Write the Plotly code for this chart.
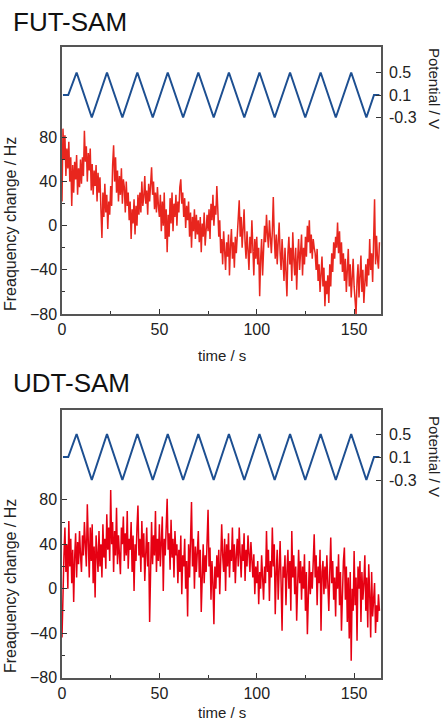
import numpy as np
import plotly.graph_objects as go

SAMPLE_STEP = 0.5

freq_fut = [
    22, 88, 60, 82, 45, 70, 52, 76, 40, 62, 18, 55, 30, 58, 42, 64, 28, 52, 35, 60,
    38, 62, 45, 86, 58, 72, 40, 66, 50, 70, 32, 56, 28, 50, 36, 55, 22, 48, 30, 44,
    14, -11, 30, 8, 38, 12, 28, -3, 22, 10, 36, 18, 55, 73, 40, 62, 30, 50, 22, 45,
    28, 52, 20, 42, 35, 12, 40, 18, 30, 5, 22, -12, 15, 2, 24, -8, 18, 0, 28, 10,
    30, 12, 40, 18, 26, 45, 20, 32, 10, 38, 22, 46, 53, 28, 40, 15, 30, 12, 35, 18,
    8, 28, -5, 22, 0, 30, -12, 15, -24, 10, -10, 25, 2, 30, -5, 20, 8, 28, 0, 22,
    12, 35, 42, 20, 30, 8, 25, -2, 18, 5, 22, -10, 12, -20, 8, -5, 15, -12, 10, -8,
    5, -15, 8, -24, 2, -10, 12, -18, 0, 10, -5, 15, -12, 20, 5, 28, 0, 18, 10, 36,
    15, -10, 5, -25, -12, -35, -5, -20, -40, -15, -28, -8, -45, -18, -3, -30, -15, -38, -10, -25,
    -5, 15, 23, -10, 8, -20, 2, 15, -15, -30, -5, -18, -40, -10, -25, 5, -20, -45, -12, -30,
    -10, -35, -20, -64, -30, -12, -45, -20, 0, -15, 10, -8, -20, 5, -15, -25, -5, 26, -10, -30,
    -8, -35, -15, 3, -25, -40, -12, -30, -50, -20, -38, -64, -25, -10, -35, -20, -50, -6, -30, -45,
    -20, -58, -30, -12, -40, -25, -8, -45, -20, -35, -10, -28, 0, -15, 5, -25, -8, -30, -12, -20,
    -25, -40, -21, -50, -35, -60, -42, -28, -55, -38, -73, -50, -62, -45, -70, -35, -55, -25, -42, -15,
    -30, -10, -20, 3, -25, -5, -35, -15, -42, -25, -50, -30, -60, -40, -21, -55, -35, -65, -45, -30,
    -55, -70, -80, -50, -35, -65, -45, -27, -60, -40, -70, -50, -35, -55, -30, -45, -12, -40, -25, -51,
    -20, 24, -35, -9, -30, -39, -15,
]

freq_udt = [
    -44, 10, 30, 55, 15, 40, 0, 61, 20, 45, 5, 35, -12, 28, 50, 10, 42, 22, 52, 30,
    15, 48, 30, 60, 40, 20, 76, 45, 10, 55, 25, 58, 5, 38, -8, 48, 30, 15, 52, 20,
    40, 10, 58, 28, 45, 18, 67, 35, 55, 25, 89, 40, 60, 15, 52, 30, 73, 22, 48, 35,
    13, 55, 40, 65, 25, 50, 30, 70, 18, 45, 35, 60, 15, 48, -2, 40, 25, 55, 75, 30,
    45, 15, 61, 28, 50, 7, 38, 55, 20, 42, -30, 35, 60, 22, 48, 30, 70, 15, 45, 25,
    58, 20, 40, 65, -2, 45, 30, 60, 81, 35, 50, 17, 62, 28, 45, 10, 52, 30, 40, 5,
    35, 15, 48, -5, 30, 20, 45, 0, 25, -25, 40, 10, 55, 78, 20, 45, 0, 38, 15, 30,
    52, 10, 35, -21, 25, 40, 5, 30, 15, 45, 71, 20, 37, -10, 25, 5, -32, 20, 0, 30,
    10, 35, -5, 25, 58, 30, 15, 45, -2, 40, 20, 50, 10, 35, 25, 55, 15, 40, 5, 30,
    45, 20, 55, 30, 10, 40, 25, 50, 7, 35, 20, 48, 30, 15, 42, 25, 10, 31, -5, 20,
    5, 25, -14, 15, 0, 30, 10, -10, 20, 5, 52, 15, 35, -11, 25, 10, 55, 20, 40, -23,
    15, 35, -10, 25, 43, 5, -38, 20, 10, 30, -15, 15, 35, 0, 25, -20, 52, 10, 30, -5,
    20, -29, 15, 35, 5, 25, -10, 20, 0, 31, -20, 15, -41, 10, 25, -5, 15, 0, 30, 49,
    10, 30, -15, 20, 5, 35, -38, 15, 25, -5, 20, 0, 30, 10, -20, 15, 46, 5, 25, -10,
    10, -25, 20, 0, 31, -15, 15, -38, 5, 25, 37, -10, 20, -30, 10, -45, 15, -65, 0, -20,
    34, -15, 10, -47, 20, 0, 25, -30, 15, -10, 5, 30, -20, 10, -35, 22, -5, -44, 15, -25,
    -10, 5, -40, -15, -30, -5, -20,
]

# applied potential (V): corner points of the triangular sweep
pot_t = [0.5, 3.2, 7.5, 15.3, 23.1, 31.0, 38.7, 46.6, 54.3, 62.2, 70.0, 77.9,
         85.7, 93.6, 101.4, 109.2, 117.1, 124.9, 132.8, 140.6, 148.5, 156.3, 160.2, 163.0]
pot_v = [0.1, 0.1, 0.5, -0.3, 0.5, -0.3, 0.5, -0.3, 0.5, -0.3, 0.5, -0.3,
         0.5, -0.3, 0.5, -0.3, 0.5, -0.3, 0.5, -0.3, 0.5, -0.3, 0.1, 0.1]

panels = ["FUT-SAM", "UDT-SAM"]
x_ticks = [0, 50, 100, 150]
x_minor = [25, 75, 125]
y_ticks = [-80, -40, 0, 40, 80]
y_minor = [-60, -20, 20, 60]
pot_ticks = [0.5, 0.1, -0.3]
pot_labels = ["0.5", "0.1", "-0.3"]

W, H = 445, 723
L, R = 62, 64
PW = W - L - R
FONT = "Liberation Sans, Arial, Helvetica, sans-serif"
AX = "#555555"

t_freq = np.arange(len(freq_fut)) * SAMPLE_STEP

fig = go.Figure()
fig.add_trace(go.Scatter(x=t_freq, y=freq_fut, mode="lines", xaxis="x", yaxis="y",
                         line=dict(color="#e8261e", width=1.5)))
fig.add_trace(go.Scatter(x=pot_t, y=pot_v, mode="lines", xaxis="x", yaxis="y2",
                         line=dict(color="#1d4f91", width=2)))
fig.add_trace(go.Scatter(x=t_freq, y=freq_udt, mode="lines", xaxis="x2", yaxis="y3",
                         line=dict(color="#e60012", width=1.5)))
fig.add_trace(go.Scatter(x=pot_t, y=pot_v, mode="lines", xaxis="x2", yaxis="y4",
                         line=dict(color="#1d4f91", width=2)))


def py(px):
    # pixel row -> paper y
    return 1 - px / H


def pxx(px):
    # pixel column -> paper x
    return (px - L) / PW


def xax(anchor):
    return dict(anchor=anchor, domain=[0, 1], range=[0, 163.8], showgrid=False, zeroline=False,
                automargin=False,
                showline=True, linecolor=AX, linewidth=1.5, mirror=True,
                ticks="inside", ticklen=5, tickwidth=1.2, tickcolor="#333",
                tickvals=x_ticks, tickfont=dict(size=16, color="#222"),
                minor=dict(tickvals=x_minor, ticks="inside", ticklen=3, tickcolor="#333"))


def yax(top, bot, lo, hi):
    return dict(domain=[py(bot), py(top)], range=[lo, hi], showgrid=False, zeroline=False,
                automargin=False,
                showline=True, linecolor=AX, linewidth=1.5, mirror=True,
                ticks="inside", ticklen=5, tickwidth=1.2, tickcolor="#333",
                tickvals=y_ticks, tickfont=dict(size=16, color="#222"),
                minor=dict(tickvals=y_minor, ticks="inside", ticklen=3, tickcolor="#333"))


def pax(over, anchor, lo, hi):
    return dict(overlaying=over, anchor=anchor, side="right", range=[lo, hi],
                showgrid=False, zeroline=False, showline=False, automargin=False,
                ticks="inside", ticklen=5, tickwidth=1.2, tickcolor="#333",
                tickvals=pot_ticks, ticktext=pot_labels, ticklabelstandoff=7,
                tickfont=dict(size=16, color="#222"))


fig.update_layout(
    width=W, height=H, margin=dict(l=L, r=R, t=0, b=0, autoexpand=False),
    paper_bgcolor="white", plot_bgcolor="white", showlegend=False,
    font=dict(family=FONT, color="#222"),
    xaxis=xax("y"),
    yaxis=yax(47, 314, -80, 162),
    yaxis2=pax("y", "x", -3.79, 0.953),
    xaxis2=xax("y3"),
    yaxis3=yax(410, 678, -80.5, 161),
    yaxis4=pax("y3", "x2", -3.74, 0.917),
)

ann = []
for name, title_y, freq_mid, pot_mid, time_y in [
    (panels[0], 22, 224, 88, 355),
    (panels[1], 383, 586, 456, 712),
]:
    ann.append(dict(text=name, x=pxx(11), y=py(title_y), xanchor="left", yanchor="middle",
                    font=dict(size=26, color="#111")))
    ann.append(dict(text="Freaquency change / Hz", x=pxx(10), y=py(freq_mid), textangle=-90,
                    xanchor="center", yanchor="middle", font=dict(size=16, color="#222")))
    ann.append(dict(text="Potential / V", x=pxx(435), y=py(pot_mid), textangle=90,
                    xanchor="center", yanchor="middle", font=dict(size=15, color="#222")))
    ann.append(dict(text="time / s", x=pxx(222), y=py(time_y), xanchor="center",
                    yanchor="middle", font=dict(size=15, color="#222")))
for a in ann:
    a.update(xref="paper", yref="paper", showarrow=False)
fig.update_layout(annotations=ann)

# the page's default body margin would push the figure 8 px down and right
fig.write_html("out.html", config={"displayModeBar": False},
               post_script="document.body.style.margin='0';document.body.style.overflow='hidden';")
